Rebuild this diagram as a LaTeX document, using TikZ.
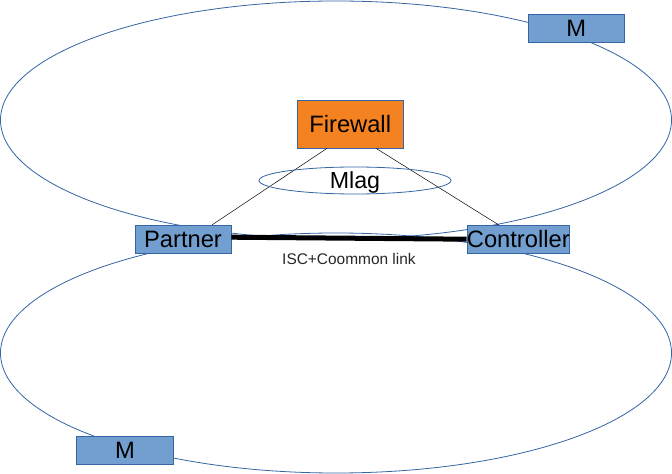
\documentclass[tikz,border=0pt]{standalone}
\usepackage{fontspec}
\setmainfont{Liberation Sans}
\usetikzlibrary{shapes.geometric}
\usetikzlibrary{positioning,calc}
\definecolor{boxblue}{RGB}{114,159,207}
\definecolor{edgeblue}{RGB}{52,101,164}
\definecolor{fworange}{RGB}{245,130,32}
\tikzset{
    box/.style={
           rectangle,
           draw=edgeblue, line width=0.6bp,
           fill=boxblue,
           minimum height=28bp,
           inner sep=0pt,
           text height=17bp, text depth=0pt,
           font=\fontsize{23.8}{24}\selectfont,
           },
    zone/.style={
           ellipse,
           draw=edgeblue, line width=0.8bp,
           inner sep=0pt,
           },
}

\begin{document}
\begin{tikzpicture}[x=1bp,y=-1bp]
 \useasboundingbox (0,0) rectangle (672,474);

 % the two big zones, drawn first so the boxes sit on top
 \node[zone,minimum width=671bp,minimum height=238bp] (Upper) at (336,120) {};
 \node[zone,minimum width=671bp,minimum height=240bp] (Lower) at (336,353) {};

 % Firewall on top, orange
 \node[box,
  fill=fworange,
  minimum width=106bp,
  minimum height=48bp] (Firewall) at (350.2,124.2)
 {Firewall};

 % the two switches
 \node[box,minimum width=96bp] (Partner) at (183,239.2) {Partner};
 \node[box,
  minimum width=98bp,
  right of=Partner,
  node distance=335.3bp,
  anchor=center] (Controller)
 {Controller};

 % M boxes, one per zone
 \node[box,minimum width=96bp] (MUpper) at (576.3,28.2) {M};
 \node[box,minimum width=96.6bp] (MLower) at (125,450.2) {M};

 % uplinks from the firewall
 \draw[black,line width=0.5bp] ($(Firewall.south west)!.28!(Firewall.south east)$) -- ($(Partner.north west)!.80!(Partner.north east)$);
 \draw[black,line width=0.5bp] ($(Firewall.south east)!.255!(Firewall.south west)$) -- ($(Controller.north west)!.31!(Controller.north east)$);

 % mlag ring over the uplinks
 \node[zone,minimum width=192bp,minimum height=27bp,
  text height=17bp,text depth=0pt,
  font=\fontsize{23.3}{24}\selectfont] (Mlag) at (355,180.5) {Mlag};

 % ISC link between the switches
 \draw[black,line width=5bp] ($(Partner.east)+(0,-2)$) -- (Controller.west)
  node[pos=0.5,below=9.5bp,text=black!85,font=\fontsize{15.5}{16}\selectfont] (isc) {ISC+Coommon link};

\end{tikzpicture}
\end{document}
